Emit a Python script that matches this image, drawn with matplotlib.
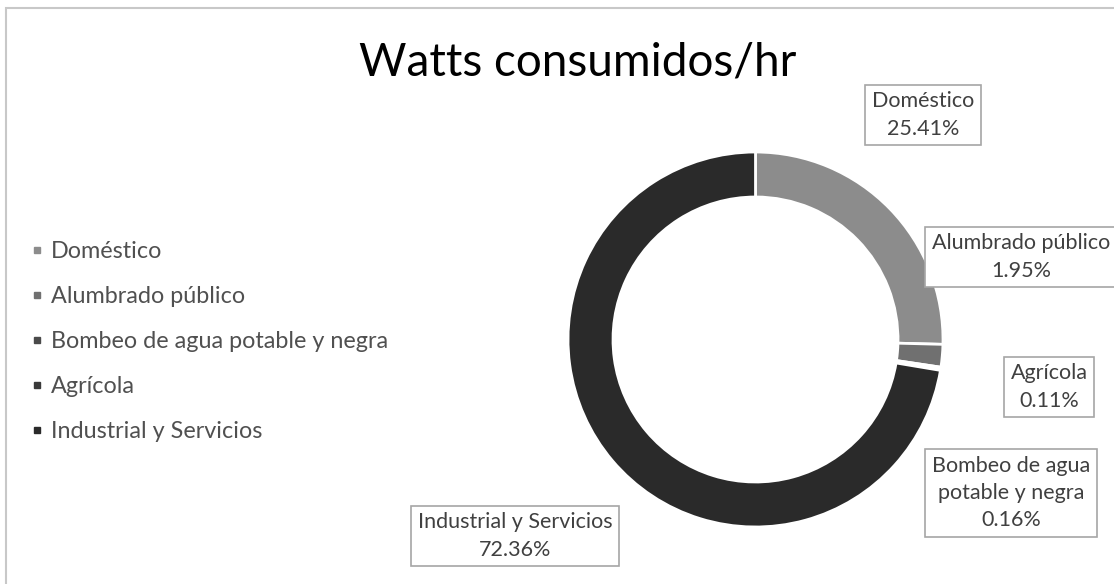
import matplotlib.pyplot as plt
from matplotlib.lines import Line2D
from matplotlib.patches import Rectangle

plt.rcParams['font.family'] = ['Lato', 'DejaVu Sans']

categories = ['Doméstico', 'Alumbrado público', 'Bombeo de agua potable y negra',
              'Agrícola', 'Industrial y Servicios']
box_names = ['Doméstico', 'Alumbrado público', 'Bombeo de agua\npotable y negra',
             'Agrícola', 'Industrial y Servicios']
values = [25.41, 1.95, 0.16, 0.11, 72.36]
colors = ['#8c8c8c', '#707070', '#4a4a4a', '#3a3a3a', '#2a2a2a']

W, H = 1114, 584
fig = plt.figure(figsize=(W / 100, H / 100), dpi=100)

def fx(px):
    return px / W

def fy(py):
    return 1 - py / H

# chart area border (only top and left visible)
fig.patches.append(Rectangle((fx(6), fy(640)), fx(1200), fy(8) - fy(640),
                             transform=fig.transFigure, fill=False,
                             edgecolor='#c8c8c8', linewidth=1.5))

fig.text(fx(578), fy(62), 'Watts consumidos/hr', fontsize=33, ha='center',
         va='center', color='#000000')

# donut
cx, cy, r = 755.5, 339.5, 187.5
ax = fig.add_axes([fx(cx - r), fy(cy + r), (2 * r) / W, (2 * r) / H])
ax.pie(values, colors=colors, startangle=90, counterclock=False,
       wedgeprops=dict(width=0.24, edgecolor='white', linewidth=2))
ax.set_xlim(-1, 1)
ax.set_ylim(-1, 1)

# data labels
label_pos = [(923, 115), (1021, 257), (1011, 493), (1049, 387), (515, 536)]
for name, v, (px, py) in zip(box_names, values, label_pos):
    fig.text(fx(px), fy(py), f'{name}\n{v:.2f}%', fontsize=15.5, ha='center',
             va='center', color='#404040', linespacing=1.45,
             bbox=dict(boxstyle='square,pad=0.32', facecolor='white',
                       edgecolor='#a6a6a6', linewidth=1.2))

# legend
handles = [Line2D([], [], marker='s', linestyle='none', markersize=4.5,
                  markerfacecolor=c, markeredgecolor=c) for c in colors]
fig.legend(handles, categories, loc='upper left',
           bbox_to_anchor=(fx(22), fy(232)), frameon=False, fontsize=16.8,
           labelspacing=1.03, handlelength=0.5, handletextpad=0.35,
           labelcolor='#505050', borderaxespad=0)

fig.savefig('out.png', dpi=100, facecolor='white')
